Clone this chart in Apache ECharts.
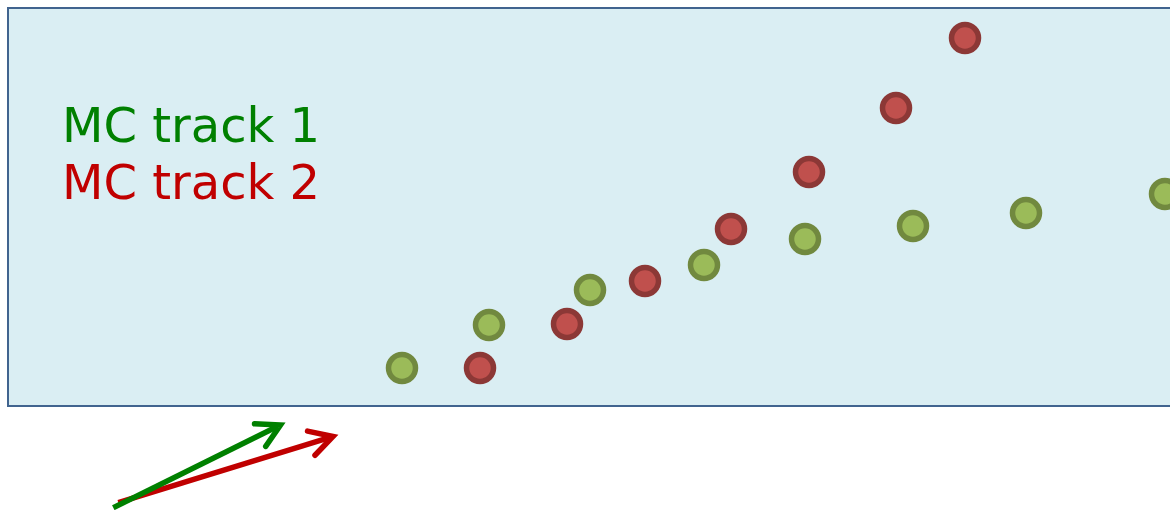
<!DOCTYPE html>
<html>
<head>
<meta charset="utf-8">
<script src="https://cdn.jsdelivr.net/npm/echarts@6/dist/echarts.min.js"></script>
<style>
html,body{margin:0;padding:0;background:#ffffff;}
#chart{width:1170px;height:510px;}
</style>
</head>
<body>
<div id="chart"></div>
<script>
// Hit positions (x = layer position, y = transverse position)
const track1X = [39.4, 48.1, 58.2, 69.6, 79.7, 90.5, 101.8, 115.7];
const track1Y = [3.8, 8.1, 11.6, 14.1, 16.7, 18.0, 19.3, 21.2];
const track2X = [47.2, 55.9, 63.7, 72.3, 80.1, 88.8, 95.7];
const track2Y = [3.8, 8.2, 12.5, 17.7, 23.4, 29.8, 36.8];
// Direction arrows [x start, y start, x tip, y tip]
const arrow1 = [10.53, -10.17, 27.25, -1.9];
const arrow2 = [11.03, -9.67, 32.5, -3.05];
const trackNames = ['MC track 1', 'MC track 2'];

const zip = (xs, ys) => xs.map((x, i) => [x, ys[i]]);

function arrowRenderer(color) {
  return function (params, api) {
    const p1 = api.coord([api.value(0), api.value(1)]);
    const p2 = api.coord([api.value(2), api.value(3)]);
    const ang = Math.atan2(p2[1] - p1[1], p2[0] - p1[0]);
    const L = 26, w = 29 * Math.PI / 180;
    const a1 = [p2[0] - L * Math.cos(ang - w), p2[1] - L * Math.sin(ang - w)];
    const a2 = [p2[0] - L * Math.cos(ang + w), p2[1] - L * Math.sin(ang + w)];
    const end = [p2[0] - 3 * Math.cos(ang), p2[1] - 3 * Math.sin(ang)];
    return {
      type: 'group',
      children: [
        {type: 'line', shape: {x1: p1[0], y1: p1[1], x2: end[0], y2: end[1]},
         style: {stroke: color, lineWidth: 5.5, lineCap: 'butt'}},
        {type: 'polyline', shape: {points: [a1, p2, a2]},
         style: {stroke: color, lineWidth: 5.5, fill: null, lineJoin: 'miter', lineCap: 'round'}}
      ]
    };
  };
}

const chart = echarts.init(document.getElementById('chart'), null, {renderer: 'canvas'});
chart.setOption({
  animation: false,
  backgroundColor: '#ffffff',
  grid: {
    left: 8, top: 8, width: 1174, height: 398,
    outerBoundsMode: 'none', containLabel: false,
    show: true, backgroundColor: '#DAEEF3', borderColor: '#41648F', borderWidth: 2
  },
  xAxis: {type: 'value', min: 0, max: 117.4, show: false, splitLine: {show: false}},
  yAxis: {type: 'value', min: 0, max: 39.8, show: false, splitLine: {show: false}},
  legend: {
    orient: 'vertical', left: 56, top: 101, padding: 0, itemGap: 0,
    itemWidth: 0, itemHeight: 0, icon: 'circle', selectedMode: false,
    textStyle: {fontSize: 48, fontFamily: 'DejaVu Sans', lineHeight: 57},
    data: [
      {name: trackNames[0], textStyle: {color: '#008000'}},
      {name: trackNames[1], textStyle: {color: '#C00000'}}
    ]
  },
  series: [
    {
      name: trackNames[0], type: 'scatter', clip: false, data: zip(track1X, track1Y),
      symbol: 'circle', symbolSize: 27,
      itemStyle: {color: '#9BBB59', borderColor: '#71893F', borderWidth: 5.5, opacity: 1}
    },
    {
      name: trackNames[1], type: 'scatter', clip: false, data: zip(track2X, track2Y),
      symbol: 'circle', symbolSize: 27,
      itemStyle: {color: '#C0504D', borderColor: '#8C3836', borderWidth: 5.5, opacity: 1}
    },
    {
      name: trackNames[0] + ' direction', type: 'custom', clip: false,
      renderItem: arrowRenderer('#008000'), data: [arrow1], z: 3
    },
    {
      name: trackNames[1] + ' direction', type: 'custom', clip: false,
      renderItem: arrowRenderer('#C00000'), data: [arrow2], z: 2
    }
  ]
});
</script>
</body>
</html>
